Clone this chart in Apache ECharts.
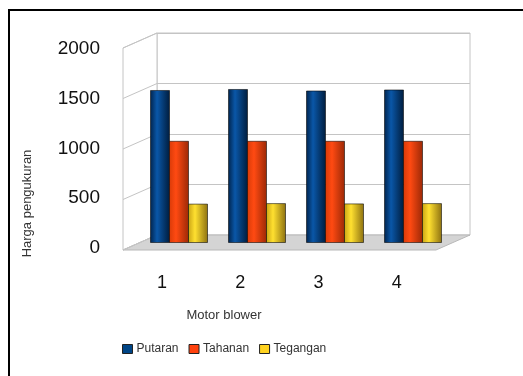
<!DOCTYPE html>
<html>
<head>
<meta charset="utf-8">
<script src="https://cdn.jsdelivr.net/npm/echarts@6/dist/echarts.min.js"></script>
<style>
  html, body { margin: 0; padding: 0; background: #fff; }
  #chart { width: 523px; height: 376px; }
</style>
</head>
<body>
<div id="chart"></div>
<script>
var categories = ['1', '2', '3', '4']
var putaran = [1515, 1525, 1510, 1520]
var tahanan = [1012, 1012, 1012, 1012]
var tegangan = [390, 395, 392, 395]
var yTicks = [0, 500, 1000, 1500, 2000]

var chartInstance = echarts.init(document.getElementById('chart'))

// depth offset between back wall and front edge
var depthX = -34
var depthY = 15

function barGradient(c0, c1, c2) {
    return new echarts.graphic.LinearGradient(0, 0, 1, 0, [
        { offset: 0, color: c0 },
        { offset: 0.35, color: c1 },
        { offset: 1, color: c2 }
    ])
}

function barSeries(name, data, colors) {
    return {
        name: name,
        type: 'bar',
        xAxisIndex: 2,
        yAxisIndex: 2,
        data: data,
        barWidth: 20,
        barGap: '-5%',
        z: 5,
        itemStyle: {
            color: barGradient(colors[0], colors[1], colors[2]),
            borderColor: 'rgba(0, 0, 0, 0.55)',
            borderWidth: 1
        }
    }
}

var option = {
    animation: false,
    textStyle: { fontFamily: 'Liberation Sans, Arial, sans-serif' },
    graphic: [
        {
            type: 'rect',
            shape: { x: 9, y: 10, width: 700, height: 700 },
            style: { fill: 'none', stroke: '#000', lineWidth: 2 },
            silent: true
        }
    ],
    title: {
        text: 'Motor blower',
        left: 219,
        top: 304,
        textAlign: 'center',
        textStyle: { fontSize: 13, fontWeight: 'normal', color: '#333' }
    },
    legend: {
        left: 117,
        top: 338,
        itemWidth: 10,
        itemHeight: 9,
        itemGap: 10,
        icon: 'rect',
        textStyle: { fontSize: 12, color: '#333', padding: [0, 0, 0, -1] },
        data: [
            { name: 'Putaran', itemStyle: { color: '#004586', borderColor: '#222', borderWidth: 1 } },
            { name: 'Tahanan', itemStyle: { color: '#ff420e', borderColor: '#222', borderWidth: 1 } },
            { name: 'Tegangan', itemStyle: { color: '#ffd320', borderColor: '#222', borderWidth: 1 } }
        ]
    },
    grid: [
        // back wall
        { left: 157, right: 53, top: 33, bottom: 141, show: true, borderColor: '#c4c4c4', borderWidth: 1, backgroundColor: '#fff' },
        // front edge (labels)
        { left: 123, right: 87, top: 49, bottom: 128 },
        // bars (mid depth)
        { left: 140, right: 71, top: 41, bottom: 133 }
    ],
    xAxis: [
        { gridIndex: 0, type: 'category', data: categories, show: false },
        {
            gridIndex: 1,
            type: 'category',
            data: categories,
            axisLine: { show: false },
            axisTick: { show: false },
            axisLabel: { fontSize: 18, color: '#111', margin: 26 }
        },
        { gridIndex: 2, type: 'category', data: categories, show: false }
    ],
    yAxis: [
        {
            gridIndex: 0,
            type: 'value',
            min: 0,
            max: 2000,
            interval: 500,
            axisLabel: { show: false },
            axisLine: { show: false },
            axisTick: { show: false },
            splitLine: { lineStyle: { color: '#c4c4c4', width: 1 } }
        },
        {
            gridIndex: 1,
            type: 'value',
            min: 0,
            max: 2000,
            interval: 500,
            name: 'Harga pengukuran',
            nameLocation: 'middle',
            nameRotate: 90,
            nameGap: 89,
            nameTextStyle: { fontSize: 13, color: '#333', padding: [0, 110, 0, 0] },
            axisLine: { show: false },
            axisTick: { show: false },
            splitLine: { show: false },
            axisLabel: {
                fontSize: 19,
                color: '#111',
                margin: 23,
                formatter: function (v) { return String(v) }
            }
        },
        { gridIndex: 2, type: 'value', min: 0, max: 2000, show: false, splitLine: { show: false } }
    ],
    series: [
        {
            type: 'custom',
            xAxisIndex: 0,
            yAxisIndex: 0,
            z: 1,
            silent: true,
            data: [[0, 0]],
            renderItem: function (params, api) {
                var cs = params.coordSys
                var left = cs.x
                var right = cs.x + cs.width
                var top = cs.y
                var bot = cs.y + cs.height
                var children = [
                    {
                        type: 'polygon',
                        shape: { points: [[left, top], [left, bot], [left + depthX, bot + depthY], [left + depthX, top + depthY]] },
                        style: { fill: '#fff', stroke: '#c4c4c4', lineWidth: 1 }
                    },
                    {
                        type: 'polygon',
                        shape: { points: [[left, bot], [right, bot], [right + depthX, bot + depthY], [left + depthX, bot + depthY]] },
                        style: { fill: '#d4d4d4', stroke: '#b8b8b8', lineWidth: 1 }
                    }
                ]
                yTicks.forEach(function (v) {
                    var y = api.coord([0, v])[1]
                    children.push({
                        type: 'line',
                        shape: { x1: left, y1: y, x2: left + depthX, y2: y + depthY },
                        style: { stroke: '#c4c4c4', lineWidth: 1 }
                    })
                })
                return { type: 'group', children: children }
            }
        },
        barSeries('Putaran', putaran, ['#00224a', '#0a57a8', '#001c3c']),
        barSeries('Tahanan', tahanan, ['#d83a08', '#ff4a12', '#9a2806']),
        barSeries('Tegangan', tegangan, ['#c8a214', '#ffe030', '#8c7010'])
    ]
}

chartInstance.setOption(option)
window.addEventListener('resize', function () {
    chartInstance.resize()
})
</script>
</body>
</html>
